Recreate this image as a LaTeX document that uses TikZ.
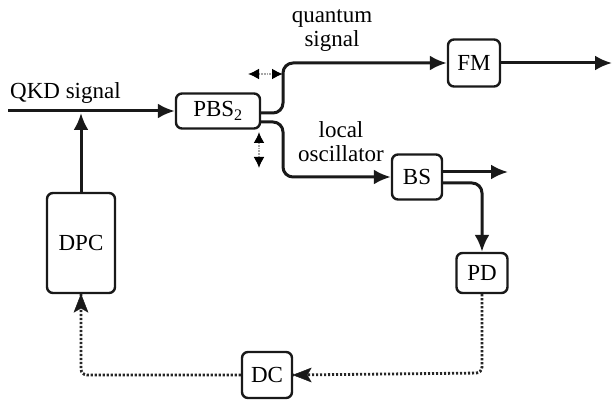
\documentclass[tikz,border=0pt]{standalone}
\usepackage{fontspec}
\setmainfont{Liberation Serif}
\newfontfamily\labelfont{Liberation Serif}
\usetikzlibrary{arrows.meta,calc}

\begin{document}
\begin{tikzpicture}[x=1pt,y=-1pt,
  box/.style={draw=black!90, line width=2.4pt, rounded corners=6pt, fill=white,
    inner sep=0pt, font=\labelfont\fontsize{23}{26}\selectfont},
  ln/.style={line width=3pt, draw=black!90},
  tip/.style={-{Latex[length=17pt,width=15pt]}},
  dotln/.style={line width=2.8pt, draw=black!85, dash pattern=on 2.2pt off 1.8pt},
  dbl/.style={line width=1.8pt, draw=black!35, densely dotted,
    {Latex[length=11pt,width=11pt,black]}-{Latex[length=11pt,width=11pt,black]}},
  lbl/.style={font=\labelfont\fontsize{23}{24}\selectfont, align=center, inner sep=0pt}
]
\useasboundingbox (0,0) rectangle (614,401);

% components
\node[box, minimum width=84pt, minimum height=35pt] (pbs) at (218,111) {PBS\textsubscript{2}};
\node[box, minimum width=52pt, minimum height=47pt] (fm)  at (474,63)  {FM};
\node[box, minimum width=50pt, minimum height=45pt] (bs)  at (417,177) {BS};
\node[box, minimum width=51pt, minimum height=40pt] (pd)  at (482,273) {PD};
\node[box, minimum width=50pt, minimum height=46pt] (dc)  at (267,375) {DC};
\node[box, minimum width=68pt, minimum height=100pt] (dpc) at (81,243) {DPC};

% labels
\node[lbl, anchor=base west] (qkd) at (10,99) {QKD signal};
\node[lbl] (qs) at (332,31) {quantum\\signal};
\node[lbl] (lo) at (341,142) {local\\oscillator};

% free ends
\coordinate (in)   at (8,111);
\coordinate (fmout) at (612,63);
\coordinate (bsout) at (508,172);
\coordinate (tap)  at (81,113);

% optical paths
\draw[ln,tip] (in) -- (pbs.west);
\draw[ln,tip,rounded corners=10pt] ($(pbs.east)+(0,2)$) -- (283,113) -- (283,63) -- (fm.west);
\draw[ln,tip,rounded corners=10pt] ($(pbs.east)+(0,11)$) -- (283,122) -- (283,177) -- (bs.west);
\draw[ln,tip] (fm.east) -- (fmout);
\draw[ln,tip] ($(bs.east)+(0,-5)$) -- (bsout);
\draw[ln,tip,rounded corners=10pt] ($(bs.east)+(0,6)$) -- (482,183) -- (pd.north);

% electrical feedback
\draw[dotln,rounded corners=6pt] (pd.south) -- (482,373) -- (dc.east);
\draw[black!90,fill=black!90] (dc.east) -- ++(18,-7) -- ++(-4,7) -- ++(4,7) -- cycle;
\draw[dotln,rounded corners=6pt] (dc.west) -- (81,375) -- (dpc.south);
\draw[black!90,fill=black!90] (dpc.south) -- ++(-7,18) -- ++(7,-4) -- ++(7,4) -- cycle;
\draw[ln,tip] (dpc.north) -- (tap);

% polarization markers
\draw[dbl] (248,74) -- (283,74);
\draw[dbl] (259,132) -- (259,168);
\end{tikzpicture}
\end{document}
